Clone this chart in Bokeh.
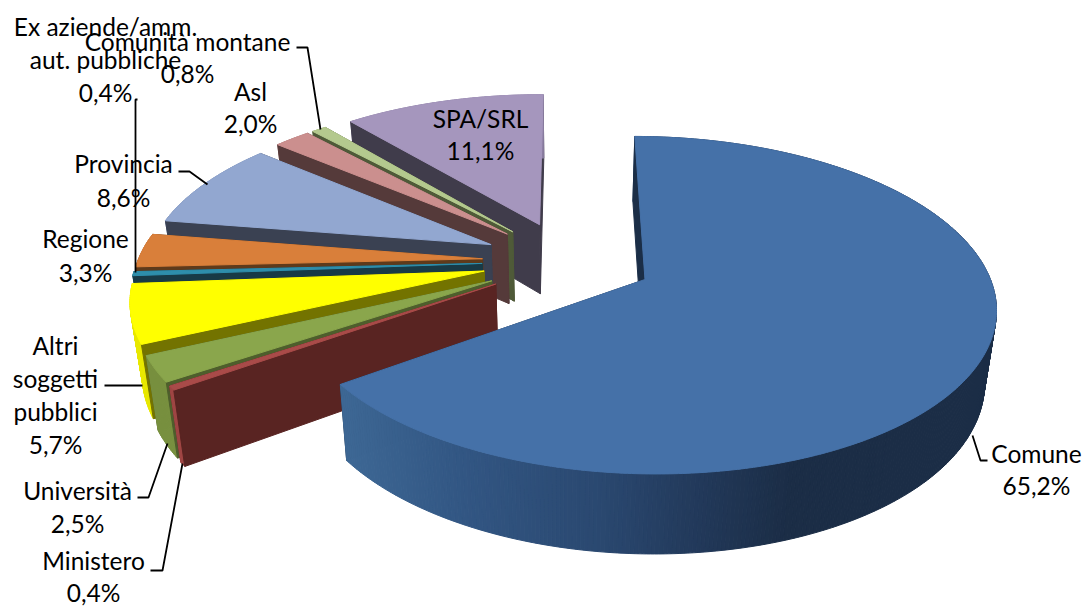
import numpy as np
from bokeh.plotting import figure
from bokeh.models import ColumnDataSource
from bokeh.core.properties import value
from bokeh.embed import file_html
from bokeh.resources import INLINE

categories = ["Comune", "Ministero", "Università", "Altri soggetti pubblici",
              "Ex aziende/amm. aut. pubbliche", "Regione", "Provincia", "Asl",
              "Comunità montane", "SPA/SRL"]
shares = [65.2, 0.4, 2.5, 5.7, 0.4, 3.3, 8.6, 2.0, 0.8, 11.1]

top_colors = ["#4571A8", "#A94B49", "#8AA64C", "#FFFF00", "#2E8EAB",
              "#D97F3A", "#92A7D0", "#CB8F8E", "#B4C98E", "#A596BD"]
wall_colors = ["#1B2E47", "#592422", "#4E5E2C", "#737300", "#183A46",
               "#5E3A1B", "#3A4152", "#553A3A", "#4F5A38", "#403C4B"]
rim_colors = ["#1B2E47", "#A04644", "#78903F", "#E8E800", "#276F86",
              "#B86A30", "#7A8CB0", "#AA7877", "#98AB78", "#8A7DA0"]

# label lines and where each block sits
label_lines = [["Comune"], ["Ministero"], ["Università"], ["Altri", "soggetti", "pubblici"],
               ["Ex aziende/amm.", "aut. pubbliche"], ["Regione"], ["Provincia"], ["Asl"],
               ["Comunità montane"], ["SPA/SRL"]]
label_x = [1036, 93, 77, 55, 105, 85, 123, 250, 187, 480]
label_y = [453, 560, 490, 345, 26, 238, 163, 91, 41, 118]
label_step = [32, 32, 33, 33, 33, 34, 34, 32, 32, 32]

leaders = [
    [(972, 435), (980, 460), (987, 460)],
    [(150, 570), (162, 570), (182, 463)],
    [(137, 497), (148, 497), (167, 443)],
    [(104, 385), (142, 385)],
    [(137, 99), (135, 99), (135, 272)],
    [(178, 171), (189, 171), (207, 184)],
    [(296, 47), (307, 47), (320, 129)],
]

# projection of the pie's plane
CX, CY, A, B, K, KU, EXPLODE = 567.3, 260.4, 342.0, 159.4, 0.1497, -0.005, 0.25


def project(u, v):
    w = 1 + K * v - KU * u
    return CX + A * u / w, CY - B * v / w


def drop(x, y):
    return CX + 0.972 * (x - CX), y + 69 + 0.044 * (y - 223)


def hex_rgb(c):
    return np.array([int(c[i:i + 2], 16) for i in (1, 3, 5)], dtype=float)


def mix(stops, t):
    xs = [s[0] for s in stops]
    cols = np.array([hex_rgb(s[1]) for s in stops])
    r = [np.interp(t, xs, cols[:, i]) for i in range(3)]
    return "#%02X%02X%02X" % tuple(int(round(c)) for c in r)


comune_rim = [(345, "#3D6794"), (460, "#325683"), (600, "#2A4870"), (700, "#22395A"),
              (790, "#1B2D46"), (1000, "#1B2D46")]

xs, ys, fills = [], [], []


def add(px, py, c):
    xs.append(list(map(float, px)))
    ys.append(list(map(float, py)))
    fills.append(c)


edges = np.concatenate([[0], np.cumsum(shares)]) / sum(shares) * 2 * np.pi
mids = (edges[:-1] + edges[1:]) / 2

# back to front: the small slices go from SPA/SRL round to Ministero, Comune last
order = list(range(len(shares) - 1, 0, -1)) + [0]
for i in order:
    a0, a1, m = edges[i], edges[i + 1], mids[i]
    ou, ov = EXPLODE * np.sin(m), EXPLODE * np.cos(m)
    t = np.linspace(a0, a1, max(3, int(np.degrees(a1 - a0) / 0.6) + 2))
    rx, ry = project(ou + np.sin(t), ov + np.cos(t))
    ax, ay = project(ou, ov)
    bx, by = drop(rx, ry)
    abx, aby = drop(ax, ay)
    # far radial wall, rim, near radial wall, top
    add([ax, rx[-1], bx[-1], abx], [ay, ry[-1], by[-1], aby], wall_colors[i])
    for j in range(len(t) - 1):
        c = mix(comune_rim, (rx[j] + rx[j + 1]) / 2) if i == 0 else rim_colors[i]
        add([rx[j], rx[j + 1], bx[j + 1], bx[j]], [ry[j], ry[j + 1], by[j + 1], by[j]], c)
    add([ax, rx[0], bx[0], abx], [ay, ry[0], by[0], aby], wall_colors[i])
    add([ax, *rx], [ay, *ry], top_colors[i])

p = figure(width=1083, height=606, x_range=(0, 1083), y_range=(606, 0),
           output_backend="svg", toolbar_location=None, min_border=0)
p.axis.visible = False
p.grid.visible = False
p.outline_line_color = None
p.background_fill_color = "white"

src = ColumnDataSource(dict(xs=xs, ys=ys, fill=fills))
p.patches("xs", "ys", source=src, fill_color="fill", line_color="fill", line_width=1)

p.multi_line([[q[0] for q in l] for l in leaders], [[q[1] for q in l] for l in leaders],
             line_color="black", line_width=1.8)

tx, ty, tt = [], [], []
for lines, x, y, step, share in zip(label_lines, label_x, label_y, label_step, shares):
    pct = f"{share:.1f}".replace(".", ",") + "%"
    for n, s in enumerate(lines + [pct]):
        tx.append(x)
        ty.append(y + n * step)
        tt.append(s)
p.text(tx, ty, text=tt, text_font=value("Lato"), text_font_size="24.5px", text_color="black",
       text_align="center", text_baseline="middle")

open("out.html", "w").write(file_html(p, INLINE))
